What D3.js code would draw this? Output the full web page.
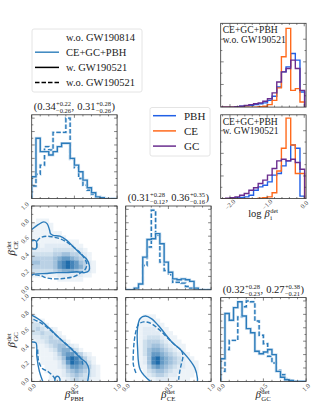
<!DOCTYPE html>
<html>
<head>
<meta charset="utf-8">
<script src="https://cdn.jsdelivr.net/npm/d3@7"></script>
<style>
body{margin:0;background:#fff;}
svg text{fill:#222;}
</style>
</head>
<body>
<div id="chart"></div>
<script>
// ---- data ----
var unitEdges = [0,0.05,0.1,0.15,0.2,0.25,0.3,0.35,0.4,0.45,0.5,0.55,0.6,0.65,0.7,0.75,0.8,0.85,0.9,0.95,1.0];
var logEdges = [-2.24,-2.115,-1.99,-1.865,-1.74,-1.615,-1.49,-1.365,-1.24,-1.115,-0.99,-0.865,-0.74,-0.615,-0.49,-0.365,-0.24,-0.115,0.01];

// 1D marginals (normalised heights), solid = w. GW190521, dashed = w.o. GW190521
var pbhSolid  = [0.26,0.72,0.56,0.56,0.52,0.56,0.62,0.66,0.66,0.48,0.40,0.32,0.22,0.13,0.07,0.02,0.01,0,0,0];
var pbhDashed = [0.15,0.29,0.40,0.62,0.58,0.79,0.79,0.79,0.96,0.47,0.37,0.24,0.16,0.10,0.05,0.02,0.01,0,0,0];
var ceSolid   = [0,0,0.02,0.07,0.39,0.60,0.61,0.67,0.55,0.33,0.21,0.13,0.12,0.13,0.12,0.10,0.02,0,0,0];
var ceDashed  = [0,0,0.01,0.07,0.29,0.51,0.95,0.65,0.33,0.23,0.18,0.09,0.09,0.08,0.04,0.02,0,0,0,0];
var gcSolid   = [0.27,0.81,0.73,0.88,0.95,0.78,0.63,0.58,0.36,0.33,0.35,0.38,0.32,0.12,0.05,0.02,0.01,0,0,0];
var gcDashed  = [0.12,0.38,0.49,0.49,0.77,0.89,0.96,0.95,0.72,0.55,0.45,0.30,0.22,0.13,0.08,0.03,0.01,0,0,0];

// log beta_i marginals, w.o. and w. GW190521
var logPbhWo = [0,0,0,0.005,0.01,0.015,0.02,0.03,0.04,0.05,0.08,0.13,0.24,0.42,0.48,0.64,0.56,0.18];
var logCeWo  = [0,0,0,0,0,0,0,0,0.005,0.01,0.03,0.08,0.23,0.60,0.94,0.20,0.22,0.06];
var logGcWo  = [0,0,0,0.005,0.01,0.02,0.03,0.04,0.05,0.07,0.10,0.17,0.30,0.42,0.46,0.56,0.46,0.20];
var logPbhW  = [0,0,0.005,0.01,0.015,0.02,0.04,0.10,0.14,0.16,0.20,0.28,0.30,0.39,0.45,0.64,0.60,0.03];
var logCeW   = [0,0,0,0,0,0,0,0,0.005,0.01,0.02,0.07,0.33,0.60,0.96,0.64,0.30,0.30];
var logGcW   = [0,0.005,0.01,0.02,0.04,0.06,0.10,0.13,0.18,0.22,0.28,0.36,0.45,0.47,0.45,0.47,0.43,0.35];

// 2D densities, 20x20 cells, rows from beta=1 (top) to beta=0, levels 0-9
var denseCePbh = [
"00000000000000000000","00000000000000000000","00000000000000000000",
"01110000000000000000","11111000000000000000","11111000000000000000",
"11111110000000000000","11111111000000000000","11111111111000000000",
"12122222221100000000","22222333332210000000","33333445544321000000",
"44444567765431000000","55444578987542100000","44444578987642100000",
"33333456665432100000","11111122222211000000","00000011111100000000",
"00000000000000000000","00000000000000000000"];
var denseGcPbh = [
"00000000000000000000","00000000000000000000","00000000000000000000",
"00000000000000000000","10000000000000000000","21100000000000000000",
"33210000000000000000","34322100000000000000","33433210000000000000",
"22334321000000000000","12234443100000000000","11123455321000000000",
"01112356643100000000","01111246775421000000","00111235898642100000",
"00111124798753100000","00011123577654210000","00011112456543210000",
"00001112345433210000","00001111234332110000"];
var denseGcCe = [
"00000000000000000000","00000000000000000000","00000000000000000000",
"00000000000000000000","00001110000000000000","00011111000000000000",
"00011111100000000000","00012221110000000000","00012222111000000000",
"00012333211100000000","00013444321110000000","00013455432111000000",
"00013566543211000000","00013577654321100000","00012589765432110000",
"00012589765432111000","00011467654322111000","00001345543221111000",
"00001234432211110000","00000112221111100000"];

// contour lines [x, y]
var cePbhSolid = [[0,0.72],[0.08,0.78],[0.14,0.81],[0.18,0.79],[0.21,0.71],[0.22,0.67],[0.25,0.65],[0.33,0.64],[0.41,0.59],[0.49,0.51],[0.57,0.43],[0.64,0.37],[0.675,0.29],[0.67,0.23],[0.62,0.205],[0.53,0.215],[0.41,0.205],[0.29,0.205],[0.18,0.195],[0.06,0.19],[0,0.18]];
var cePbhSolidIn = [[0,0.585],[0.05,0.585],[0.05,0.49],[0,0.49]];
var cePbhDashed = [[0.06,0.5],[0.065,0.58],[0.1,0.62],[0.18,0.64],[0.25,0.63],[0.33,0.61],[0.41,0.57],[0.49,0.51],[0.57,0.44],[0.62,0.37],[0.645,0.31],[0.63,0.25],[0.57,0.2],[0.5,0.16],[0.41,0.14],[0.29,0.13],[0.18,0.14],[0.1,0.17],[0,0.18]];
var gcPbhSolid = [[0,0.79],[0.1,0.73],[0.21,0.63],[0.33,0.51],[0.45,0.4],[0.57,0.28],[0.64,0.22],[0.67,0.14],[0.665,0.06],[0.655,0]];
var gcPbhSolidIn = [[0,0.47],[0.05,0.46],[0.06,0.3],[0.09,0.12],[0.13,0]];
var gcPbhSolidBump = [[0.27,0],[0.28,0.05],[0.31,0.06],[0.33,0.03],[0.33,0]];
var gcPbhDashed = [[0.02,0.74],[0.12,0.69],[0.22,0.61],[0.32,0.52],[0.42,0.43],[0.52,0.34],[0.58,0.27],[0.6,0.2]];
var gcPbhDashedIn = [[0.07,0.38],[0.08,0.25],[0.12,0.16],[0.2,0.11],[0.26,0.05],[0.28,0]];
var gcCeSolid = [[0.29,0.0],[0.17,0.14],[0.14,0.38],[0.14,0.65],[0.17,0.75],[0.23,0.78],[0.3,0.75],[0.38,0.67],[0.46,0.57],[0.54,0.47],[0.64,0.38],[0.73,0.28],[0.81,0.16],[0.84,0.04],[0.84,0]];
var gcCeDashed = [[0.12,0.1],[0.09,0.2],[0.09,0.35],[0.1,0.48],[0.12,0.6],[0.15,0.68],[0.21,0.71],[0.3,0.69],[0.4,0.61],[0.48,0.53],[0.57,0.44],[0.65,0.37],[0.67,0.3],[0.65,0.2],[0.63,0.1],[0.62,0.02]];

// median +/- errors shown above the diagonal
var titlePbh = ["0.34","+0.22","\u22120.26","0.31","+0.28","\u22120.26"];
var titleCe  = ["0.31","+0.28","\u22120.12","0.36","+0.35","\u22120.16"];
var titleGc  = ["0.32","+0.28","\u22120.23","0.27","+0.38","\u22120.21"];

var unitTicks = [0,0.5,1.0];
var unitYTicks = [0,0.2,0.4,0.6,0.8,1.0];
var logTicks = [-2,-1,0];
var legendMain = ["w.o. GW190814","CE+GC+PBH","w. GW190521","w.o. GW190521"];
var legendChan = ["PBH","CE","GC"];

// ---- layout ----
var W = 320, H = 412;
var colX = [31.7, 125.7, 220.7];
var rowY = [23.3, 114.8, 206, 297.6];
var pw = 85.4, ph = 83.8;
var blue = "#2b7bba", halo = "#cfe1f1";
var chanColor = {PBH:"#2160e6", CE:"#ff6a1c", GC:"#6a2d8e"};

var svg = d3.select("#chart").append("svg").attr("width", W).attr("height", H)
    .attr("font-family", "'Liberation Serif', 'DejaVu Serif', serif");

var xs = d3.scaleLinear().domain([0,1]).range([0,pw]);
var ys = d3.scaleLinear().domain([0,1]).range([ph,0]);
var xlog = d3.scaleLinear().domain([-2.25,0.05]).range([0,pw]);

var clipN = 0;
function makePanel(x0, y0){
    var id = "clp" + (clipN++);
    svg.append("clipPath").attr("id", id).append("rect").attr("width", pw).attr("height", ph);
    var g = svg.append("g").attr("transform", "translate(" + x0 + "," + y0 + ")");
    var inner = g.append("g").attr("clip-path", "url(#" + id + ")");
    return {g: g, inner: inner};
}

// inward ticks on all four sides, then the frame
function frame(g, xsc, xMaj, xMin, yMaj, yMin){
    var t = g.append("g").attr("stroke", "#333").attr("stroke-width", 0.6);
    function xt(v, len){
        t.append("line").attr("x1", xsc(v)).attr("x2", xsc(v)).attr("y1", ph).attr("y2", ph - len);
        t.append("line").attr("x1", xsc(v)).attr("x2", xsc(v)).attr("y1", 0).attr("y2", len);
    }
    function yt(v, len){
        t.append("line").attr("y1", ys(v)).attr("y2", ys(v)).attr("x1", 0).attr("x2", len);
        t.append("line").attr("y1", ys(v)).attr("y2", ys(v)).attr("x1", pw).attr("x2", pw - len);
    }
    xMin.forEach(function(v){ xt(v, 1.6); });
    xMaj.forEach(function(v){ xt(v, 3); });
    yMin.forEach(function(v){ yt(v, 1.6); });
    yMaj.forEach(function(v){ yt(v, 3); });
    g.append("rect").attr("width", pw).attr("height", ph)
        .attr("fill", "none").attr("stroke", "#333").attr("stroke-width", 0.8);
}

function stepPath(edges, vals, xsc){
    var p = d3.path();
    p.moveTo(xsc(edges[0]), ys(0));
    for(var i=0;i<vals.length;i++){
        p.lineTo(xsc(edges[i]), ys(vals[i]));
        p.lineTo(xsc(edges[i+1]), ys(vals[i]));
    }
    p.lineTo(xsc(edges[vals.length]), ys(0));
    return p.toString();
}

function drawHist(inner, edges, vals, xsc, color, dashed, withHalo){
    if(withHalo){
        inner.append("path").attr("d", stepPath(edges, vals, xsc))
            .attr("fill", "none").attr("stroke", halo).attr("stroke-width", 2.8)
            .attr("stroke-dasharray", dashed ? "4.5,2" : null);
    }
    inner.append("path").attr("d", stepPath(edges, vals, xsc))
        .attr("fill", "none").attr("stroke", color).attr("stroke-width", 1.4)
        .attr("stroke-dasharray", dashed ? "4.5,2" : null);
}

// pale for most levels, only the core gets saturated
var densRamp = d3.interpolateRgb("#ffffff", "#1f6cab");
function dens(v){ return densRamp(Math.pow(v / 9, 1.6) * 0.95 + 0.05); }
function drawDensity(inner, grid){
    grid.forEach(function(row, r){
        row.split("").forEach(function(ch, c){
            var v = +ch;
            if(v === 0) return;
            inner.append("rect")
                .attr("x", xs(unitEdges[c])).attr("y", ys(unitEdges[20 - r]))
                .attr("width", xs(unitEdges[c+1]) - xs(unitEdges[c]) + 0.3)
                .attr("height", ys(unitEdges[19 - r]) - ys(unitEdges[20 - r]) + 0.3)
                .attr("fill", dens(v));
        });
    });
}

var cline = d3.line().x(function(d){ return xs(d[0]); }).y(function(d){ return ys(d[1]); })
    .curve(d3.curveCatmullRom.alpha(0.5));
function drawContour(inner, pts, dashed){
    inner.append("path").attr("d", cline(pts)).attr("fill", "none")
        .attr("stroke", blue).attr("stroke-width", 1.4)
        .attr("stroke-dasharray", dashed ? "4.5,2" : null);
}

// text with stacked super/subscripts
function mathText(parent, parts, x, y, size, anchor, rotate){
    var grp = parent.append("g");
    var inner = grp.append("g");
    var cx = 0;
    parts.forEach(function(p){
        if(typeof p === "string" || p.t){
            var txt = inner.append("text").attr("x", cx).attr("y", 0)
                .style("font-size", size + "px").text(p.t || p);
            if(p.italic) txt.style("font-style", "italic");
            cx += txt.node().getComputedTextLength() + (p.gap || 0);
        } else {
            var s = size * 0.62, w = 0;
            if(p.sup){
                var a = inner.append("text").attr("x", cx + 0.3).attr("y", -size * 0.38)
                    .style("font-size", s + "px").text(p.sup);
                w = Math.max(w, a.node().getComputedTextLength());
            }
            if(p.sub){
                var b = inner.append("text").attr("x", cx + 0.3).attr("y", size * 0.28)
                    .style("font-size", s + "px").text(p.sub);
                w = Math.max(w, b.node().getComputedTextLength());
            }
            cx += w + 0.8;
        }
    });
    var off = anchor === "middle" ? -cx / 2 : 0;
    inner.attr("transform", "translate(" + off + ",0)");
    grp.attr("transform", "translate(" + x + "," + y + ")" + (rotate ? " rotate(" + rotate + ")" : ""));
    return grp;
}

function titleParts(t){
    return ["(" + t[0], {sup: t[1], sub: t[2]}, {t: ",", gap: 3}, t[3], {sup: t[4], sub: t[5]}, ")"];
}

function tickLabel(x, y, txt){
    svg.append("text").attr("transform", "translate(" + x + "," + y + ") rotate(-45)")
        .attr("text-anchor", "middle").attr("dy", "0.35em")
        .style("font-size", "6.5px").style("fill", "#444").text(txt);
}

var minorUnit = [0.1,0.2,0.3,0.4,0.6,0.7,0.8,0.9];
var histY = [0.16,0.32,0.48,0.64,0.8,0.96];
var histYMin = [0.08,0.24,0.4,0.56,0.72,0.88];

// ---- diagonal 1D panels ----
var diag = [
    {c:0, r:1, s:pbhSolid, d:pbhDashed, t:titlePbh},
    {c:1, r:2, s:ceSolid, d:ceDashed, t:titleCe},
    {c:2, r:3, s:gcSolid, d:gcDashed, t:titleGc}
];
diag.forEach(function(p){
    var P = makePanel(colX[p.c], rowY[p.r]);
    drawHist(P.inner, unitEdges, p.d, xs, blue, true, true);
    drawHist(P.inner, unitEdges, p.s, xs, blue, false, true);
    frame(P.g, xs, unitTicks, minorUnit, histY, histYMin);
    mathText(svg, titleParts(p.t), colX[p.c] + pw/2, rowY[p.r] - 5, 10.5, "middle");
});

// ---- 2D panels ----
var twoD = [
    {c:0, r:2, g:denseCePbh, solid:[cePbhSolid, cePbhSolidIn], dashed:[cePbhDashed]},
    {c:0, r:3, g:denseGcPbh, solid:[gcPbhSolid, gcPbhSolidIn, gcPbhSolidBump], dashed:[gcPbhDashed, gcPbhDashedIn]},
    {c:1, r:3, g:denseGcCe, solid:[gcCeSolid], dashed:[gcCeDashed]}
];
twoD.forEach(function(p){
    var P = makePanel(colX[p.c], rowY[p.r]);
    drawDensity(P.inner, p.g);
    p.dashed.forEach(function(l){ drawContour(P.inner, l, true); });
    p.solid.forEach(function(l){ drawContour(P.inner, l, false); });
    frame(P.g, xs, unitTicks, minorUnit, unitYTicks, [0.1,0.3,0.5,0.7,0.9]);
});

// ---- log beta panels ----
var logPanels = [
    {r:0, series:[["PBH",logPbhWo],["CE",logCeWo],["GC",logGcWo]], lab:"w.o. GW190521"},
    {r:1, series:[["PBH",logPbhW],["CE",logCeW],["GC",logGcW]], lab:"w. GW190521"}
];
logPanels.forEach(function(p){
    var P = makePanel(colX[2], rowY[p.r]);
    p.series.forEach(function(s){
        drawHist(P.inner, logEdges, s[1], xlog, chanColor[s[0]], false, false);
    });
    frame(P.g, xlog, logTicks, [-2.2,-1.8,-1.6,-1.4,-1.2,-0.8,-0.6,-0.4,-0.2], [0.27,0.54,0.81], [0.135,0.405,0.675]);
    P.g.append("text").attr("x", 2).attr("y", 10).style("font-size", "9.6px").text("CE+GC+PBH");
    P.g.append("text").attr("x", 2).attr("y", 19.5).style("font-size", "9.6px").text(p.lab);
});

// ---- tick labels ----
[0,1,2].forEach(function(c){
    unitTicks.forEach(function(v){
        tickLabel(colX[c] + xs(v), rowY[3] + ph + 6, v.toFixed(1));
    });
});
[2,3].forEach(function(r){
    unitYTicks.forEach(function(v){
        tickLabel(colX[0] - 7, rowY[r] + ys(v), v.toFixed(1));
    });
});
logTicks.forEach(function(v){
    tickLabel(colX[2] + xlog(v), rowY[1] + ph + 6, v.toFixed(1).replace("-", "\u2212"));
});

// ---- axis labels ----
var beta = {t:"\u03b2", italic:true};
mathText(svg, [beta, {sup:"det", sub:"PBH"}], colX[0] + pw/2, 398, 11, "middle");
mathText(svg, [beta, {sup:"det", sub:"CE"}], colX[1] + pw/2, 398, 11, "middle");
mathText(svg, [beta, {sup:"det", sub:"GC"}], colX[2] + pw/2, 398, 11, "middle");
mathText(svg, [beta, {sup:"det", sub:"CE"}], 15, rowY[2] + ph/2, 11, "middle", -90);
mathText(svg, [beta, {sup:"det", sub:"GC"}], 15, rowY[3] + ph/2, 11, "middle", -90);
mathText(svg, [{t:"log", gap:3}, beta, {sup:"det", sub:"i"}], colX[2] + pw/2, 217, 10.5, "middle");

// ---- legends ----
var leg1 = svg.append("g");
leg1.append("rect").attr("x", 32).attr("y", 29).attr("width", 110).attr("height", 63).attr("rx", 2)
    .attr("fill", "#fff").attr("stroke", "#ddd").attr("stroke-width", 0.8);
var leg1Style = [{c:"#fff", d:null}, {c:"#3a86bf", d:null}, {c:"#000", d:null}, {c:"#000", d:"4.5,2"}];
legendMain.forEach(function(name, i){
    var y = 37 + i * 15.2;
    leg1.append("line").attr("x1", 35).attr("x2", 59).attr("y1", y).attr("y2", y)
        .attr("stroke", leg1Style[i].c).attr("stroke-width", 1.5).attr("stroke-dasharray", leg1Style[i].d);
    leg1.append("text").attr("x", 66).attr("y", y + 3.6).style("font-size", "10.5px").text(name);
});

var leg2 = svg.append("g");
leg2.append("rect").attr("x", 150).attr("y", 107.5).attr("width", 60).attr("height", 48.5).attr("rx", 2)
    .attr("fill", "#fff").attr("stroke", "#ddd").attr("stroke-width", 0.8);
legendChan.forEach(function(name, i){
    var y = 115.7 + i * 15.2;
    leg2.append("line").attr("x1", 153).attr("x2", 176).attr("y1", y).attr("y2", y)
        .attr("stroke", chanColor[name]).attr("stroke-width", 1.5);
    leg2.append("text").attr("x", 184).attr("y", y + 3.8).style("font-size", "11px").text(name);
});
</script>
</body>
</html>
